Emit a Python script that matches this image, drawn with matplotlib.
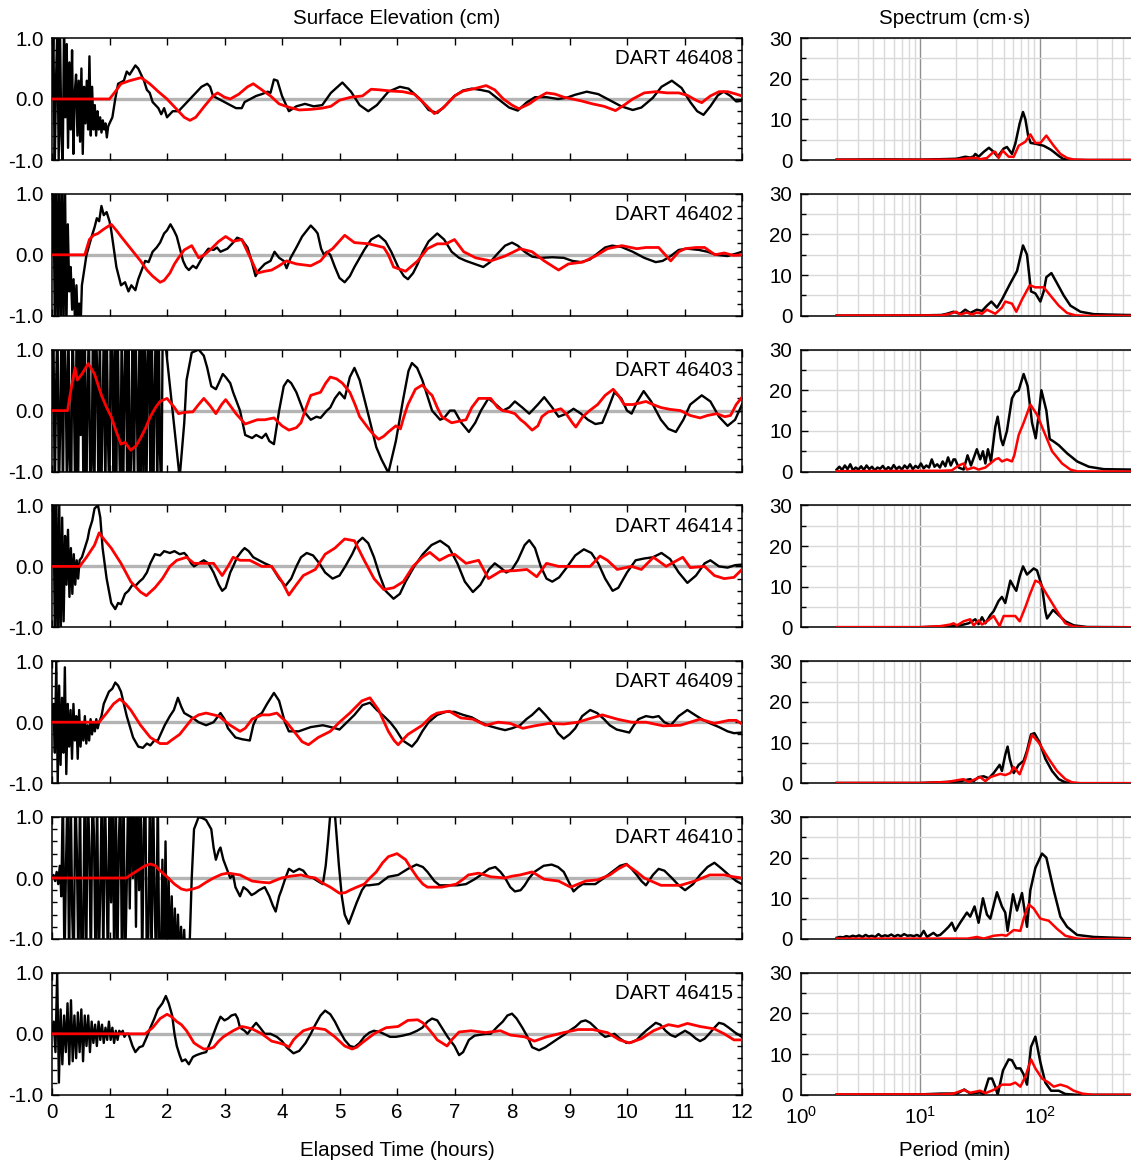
import numpy as np
import matplotlib
matplotlib.use("Agg")
import matplotlib.pyplot as plt
from matplotlib.ticker import MultipleLocator, FixedLocator, NullFormatter, LogFormatterMathtext

plt.rcParams['font.family'] = ['Liberation Sans', 'DejaVu Sans']
plt.rcParams['mathtext.fontset'] = 'custom'
plt.rcParams['mathtext.rm'] = 'Liberation Sans'

STATIONS = ["46408", "46402", "46403", "46414", "46409", "46410", "46415"]

# ---------------- surface elevation (cm) vs elapsed time (hours) ----------------
# observed records start with a high-frequency noisy stretch: (start, end, values)
NOISE_46408 = (0.0, 1.0, [0.0, 1.2, -1.2, 0.3, 1.2, -1.0, 1.1, -0.6, -1.1, 1.2, -0.3, 0.9, -0.8, 0.6,
                          -0.5, 0.8, -0.9, 0.1, 0.4, -0.6, 0.3, -0.7, 0.5, -0.9, 0.2, -0.4, 0.3, -0.5,
                          0.7, -0.6, 0.2, -0.5, -0.1, -0.6, -0.2, -0.5, -0.3, -0.55, -0.35, -0.5, -0.4,
                          -0.63, -0.45, -0.4])
NOISE_46402 = (0.0, 0.5, [0.0, 1.3, -1.3, 1.3, -1.3, 1.3, -1.3, 1.3, -1.3, 1.3, -1.2, 0.5, -0.6, -0.2,
                          -0.9, -0.4, -1.1, -0.5, -1.2, -0.8, -1.1])
NOISE_46403 = (0.0, 1.95, [0.0, 1.5, -1.5, 0.4, 1.5, -1.5, -0.2, 1.5, -1.5, 1.5, 0.6, -1.5, 1.5, -0.8,
                           -1.5, 1.5, 0.3, -1.5, 1.5, -1.5, 1.1, -0.4, 1.5, -1.5, 1.5, -1.5, 0.2, 1.5,
                           -1.5, -0.9, 1.5, -1.5, 1.5, 0.7, -1.5, 1.5, -1.5, 0.0, 1.5, -1.5, 1.5, -0.5,
                           -1.5, 1.5, 0.9, -1.5, 1.5, -1.5, 1.5, -0.3, -1.5, 1.5, -1.5, 0.5, 1.5, -1.5,
                           1.5, -1.5, -0.6, 1.5, -1.5, 1.5, 0.2, -1.5, 1.5, -1.5, 1.5, -1.0, 1.5, -1.5,
                           0.8, 1.5, -1.5, 1.5, -1.5, 0.3, 1.5, -1.5, 1.5, -0.7, -1.5, 1.5, 1.3])
NOISE_46414 = (0.0, 0.48, [0.0, 1.3, -1.3, 1.2, -1.3, 1.0, -1.2, 0.8, -0.9, 0.5, -0.3, 0.6, -0.5, 0.3,
                           -0.45, 0.2, -0.3, 0.1, -0.2, 0.1])
NOISE_46409 = (0.0, 0.82, [0.0, 0.3, -0.5, 1.0, -1.0, 0.6, -0.7, 0.4, -0.5, 0.9, -0.85, 0.3, -0.4, 0.2,
                           -0.6, 0.3, -0.3, 0.1, -0.6, 0.2, -0.4, 0.0, -0.3, 0.1, -0.35, -0.05, -0.3,
                           0.05, -0.2, 0.0, -0.15, 0.05, -0.1, 0.0])
NOISE_46410 = (0.0, 2.38, [0.0, 0.05, -0.05, 0.1, -0.1, 0.2, -0.3, 1.5, -1.5, 0.2, 1.5, -1.5, 1.5, -0.6,
                           -1.5, 1.5, 0.4, -1.5, 1.5, -1.5, -1.0, 1.5, -1.5, 1.5, 0.5, -1.5, 1.5, 0.7,
                           -1.5, 1.5, -1.5, -0.3, 1.5, -1.5, 1.5, 0.1, -1.5, 1.5, -0.4, 1.5, -1.5, 1.5,
                           -1.5, 0.6, 1.5, -1.5, 1.5, -1.5, -0.2, 1.5, -0.5, 1.5, 0.0, 1.5, -0.8, 1.5,
                           -0.2, 1.5, -1.5, 0.8, 1.5, -1.5, -0.9, 1.5, -1.5, 1.5, -0.4, -1.5, 1.5, -1.5,
                           -1.5, 0.3, -1.5, 0.6, -1.5, 0.0, -1.5, -0.3, -1.5, -0.5, -1.5, -0.6, -1.5,
                           -0.8, -1.5, -0.85, -1.5, -1.2, -1.5])
NOISE_46415 = (0.0, 1.29, [0.0, 0.2, -0.3, 1.0, -0.8, 0.4, -0.5, 0.3, -0.3, 0.5, -0.5, 0.55, -0.45, 0.3,
                           -0.4, 0.35, -0.3, 0.4, -0.45, 0.3, -0.2, 0.3, -0.3, 0.2, -0.15, 0.15, -0.2,
                           0.2, -0.1, 0.15, -0.15, 0.1, -0.1, 0.2, -0.1, 0.1, -0.15, 0.05, -0.1, 0.05,
                           0.0, 0.05, -0.05, 0.0])

# observed (black) after the noisy stretch: (hours, cm)
OBS_46408 = [(1.05, -0.3), (1.1, 0.0), (1.15, 0.25), (1.25, 0.3), (1.3, 0.45), (1.35, 0.4), (1.45, 0.55),
             (1.5, 0.5), (1.6, 0.3), (1.65, 0.15), (1.7, 0.1), (1.75, -0.05), (1.85, -0.15), (1.9, -0.25),
             (1.95, -0.15), (2.0, -0.3), (2.1, -0.2), (2.2, -0.2), (2.25, -0.15), (2.3, -0.1), (2.35, -0.05),
             (2.45, 0.05), (2.5, 0.1), (2.6, 0.2), (2.7, 0.25), (2.75, 0.2), (2.8, 0.05), (2.9, 0.0),
             (3.0, -0.05), (3.1, -0.1), (3.2, -0.15), (3.3, -0.15), (3.35, -0.05), (3.45, 0.0), (3.55, 0.05),
             (3.65, 0.08), (3.75, 0.12), (3.8, 0.1), (3.86, 0.32), (3.92, 0.3), (4.0, 0.05), (4.12, -0.2),
             (4.25, -0.12), (4.4, -0.08), (4.55, -0.12), (4.7, -0.1), (4.85, 0.1), (5.05, 0.27), (5.2, 0.12),
             (5.35, -0.1), (5.5, -0.2), (5.65, -0.1), (5.85, 0.12), (6.05, 0.2), (6.2, 0.17), (6.4, 0.0),
             (6.55, -0.18), (6.7, -0.23), (6.85, -0.1), (7.0, 0.05), (7.15, 0.14), (7.3, 0.17), (7.45, 0.15),
             (7.6, 0.12), (7.8, -0.03), (7.95, -0.14), (8.1, -0.19), (8.25, -0.06), (8.4, 0.03), (8.6, 0.03),
             (8.8, 0.0), (8.95, 0.02), (9.1, 0.07), (9.3, 0.12), (9.5, 0.08), (9.7, -0.02), (9.9, -0.12),
             (10.1, -0.18), (10.25, -0.14), (10.45, 0.02), (10.6, 0.2), (10.78, 0.3), (10.95, 0.18),
             (11.1, -0.05), (11.22, -0.2), (11.33, -0.26), (11.45, -0.12), (11.58, 0.06), (11.68, 0.12),
             (11.8, 0.05), (11.9, -0.04), (12.0, -0.03)]
OBS_46402 = [(0.52, -0.5), (0.6, 0.0), (0.69, 0.3), (0.74, 0.45), (0.78, 0.6), (0.82, 0.55), (0.86, 0.8),
             (0.9, 0.65), (0.95, 0.7), (1.0, 0.55), (1.03, 0.4), (1.12, -0.2), (1.2, -0.5), (1.27, -0.45),
             (1.33, -0.6), (1.38, -0.5), (1.45, -0.58), (1.5, -0.4), (1.54, -0.3), (1.62, -0.1), (1.68, -0.12),
             (1.75, 0.05), (1.82, 0.12), (1.88, 0.2), (1.95, 0.35), (2.0, 0.4), (2.06, 0.5), (2.12, 0.4),
             (2.17, 0.3), (2.28, -0.1), (2.33, -0.2), (2.38, -0.25), (2.45, -0.18), (2.51, -0.22), (2.58, -0.1),
             (2.64, 0.0), (2.72, 0.1), (2.81, 0.08), (2.87, 0.12), (2.93, 0.05), (3.05, 0.1), (3.15, 0.2),
             (3.22, 0.28), (3.3, 0.25), (3.4, 0.12), (3.47, -0.1), (3.54, -0.35), (3.6, -0.25), (3.7, -0.15),
             (3.8, -0.1), (3.87, 0.05), (3.95, -0.05), (4.03, -0.1), (4.08, -0.22), (4.15, -0.05), (4.25, 0.12),
             (4.35, 0.3), (4.45, 0.42), (4.5, 0.48), (4.58, 0.4), (4.62, 0.35), (4.68, 0.1), (4.73, 0.0),
             (4.78, 0.05), (4.84, 0.0), (4.92, -0.2), (5.0, -0.38), (5.09, -0.45), (5.18, -0.35), (5.26, -0.2),
             (5.43, 0.08), (5.55, 0.25), (5.68, 0.32), (5.8, 0.22), (5.9, 0.05), (6.02, -0.2), (6.12, -0.35),
             (6.19, -0.4), (6.28, -0.3), (6.36, -0.15), (6.45, 0.05), (6.55, 0.22), (6.7, 0.35), (6.82, 0.25),
             (6.95, 0.05), (7.08, -0.05), (7.2, -0.1), (7.35, -0.15), (7.5, -0.2), (7.62, -0.12), (7.75, 0.02),
             (7.88, 0.15), (8.0, 0.2), (8.1, 0.15), (8.22, 0.05), (8.35, -0.03), (8.5, -0.05), (8.7, -0.04),
             (8.9, -0.05), (9.05, -0.1), (9.2, -0.12), (9.35, -0.08), (9.5, 0.03), (9.62, 0.12), (9.74, 0.15),
             (9.9, 0.13), (10.1, 0.05), (10.3, -0.05), (10.5, -0.12), (10.62, -0.1), (10.76, -0.02),
             (10.9, 0.08), (11.05, 0.1), (11.25, 0.08), (11.4, 0.05), (11.55, 0.0), (11.75, -0.02),
             (11.9, 0.02), (12.0, 0.05)]
OBS_46403 = [(2.22, -1.1), (2.3, -0.2), (2.34, 0.5), (2.43, 0.95), (2.5, 0.98), (2.55, 1.0), (2.64, 0.9),
             (2.7, 0.7), (2.77, 0.4), (2.85, 0.35), (2.9, 0.45), (2.97, 0.6), (3.02, 0.55), (3.1, 0.45),
             (3.15, 0.3), (3.27, 0.0), (3.36, -0.4), (3.48, -0.45), (3.55, -0.4), (3.65, -0.45), (3.72, -0.38),
             (3.78, -0.5), (3.86, -0.55), (3.95, 0.0), (4.03, 0.4), (4.1, 0.5), (4.16, 0.45), (4.25, 0.3),
             (4.37, 0.0), (4.5, -0.15), (4.6, -0.1), (4.67, -0.12), (4.78, 0.0), (4.84, 0.05), (4.92, 0.2),
             (5.0, 0.3), (5.09, 0.2), (5.18, 0.55), (5.26, 0.7), (5.35, 0.5), (5.43, 0.2), (5.51, -0.1),
             (5.64, -0.6), (5.73, -0.8), (5.85, -1.02), (5.98, -0.5), (6.11, 0.2), (6.2, 0.65), (6.26, 0.78),
             (6.35, 0.7), (6.44, 0.5), (6.61, 0.0), (6.75, -0.15), (6.82, -0.12), (6.92, 0.0), (7.0, 0.0),
             (7.12, -0.2), (7.25, -0.35), (7.36, -0.2), (7.46, 0.0), (7.59, 0.2), (7.72, 0.1), (7.84, 0.0),
             (7.95, 0.05), (8.05, 0.15), (8.18, 0.05), (8.3, -0.05), (8.45, 0.1), (8.56, 0.22), (8.7, 0.05),
             (8.81, -0.1), (8.95, -0.05), (9.07, 0.03), (9.2, -0.05), (9.32, -0.15), (9.45, -0.22),
             (9.57, -0.2), (9.68, 0.05), (9.78, 0.3), (9.9, 0.2), (10.0, 0.0), (10.08, -0.05), (10.18, 0.15),
             (10.29, 0.32), (10.42, 0.15), (10.59, -0.15), (10.72, -0.3), (10.85, -0.35), (10.98, -0.15),
             (11.1, 0.1), (11.3, 0.25), (11.45, 0.15), (11.6, -0.1), (11.75, -0.25), (11.88, -0.15), (12.0, 0.1)]
OBS_46414 = [(0.52, 0.15), (0.57, 0.3), (0.62, 0.45), (0.65, 0.6), (0.7, 0.75), (0.74, 0.95), (0.8, 1.0),
             (0.84, 0.8), (0.88, 0.3), (0.95, -0.2), (1.03, -0.6), (1.1, -0.7), (1.15, -0.6), (1.2, -0.62),
             (1.27, -0.45), (1.33, -0.4), (1.4, -0.3), (1.45, -0.32), (1.52, -0.25), (1.58, -0.2), (1.65, -0.1),
             (1.71, 0.05), (1.79, 0.2), (1.88, 0.18), (1.95, 0.25), (2.05, 0.22), (2.13, 0.25), (2.22, 0.2),
             (2.3, 0.22), (2.34, 0.18), (2.42, 0.05), (2.47, 0.0), (2.55, 0.05), (2.64, 0.1), (2.72, 0.05),
             (2.81, -0.1), (2.9, -0.3), (2.96, -0.4), (3.02, -0.35), (3.1, -0.1), (3.15, 0.0), (3.22, 0.15),
             (3.3, 0.25), (3.35, 0.3), (3.42, 0.25), (3.5, 0.15), (3.6, 0.1), (3.7, 0.05), (3.82, 0.0),
             (3.95, -0.2), (4.06, -0.32), (4.16, -0.2), (4.25, 0.0), (4.33, 0.15), (4.43, 0.22), (4.54, 0.18),
             (4.65, 0.05), (4.75, -0.1), (4.88, -0.2), (5.0, -0.15), (5.1, 0.0), (5.22, 0.2), (5.32, 0.4),
             (5.4, 0.47), (5.5, 0.38), (5.6, 0.15), (5.7, -0.15), (5.8, -0.4), (5.94, -0.53), (6.05, -0.45),
             (6.15, -0.25), (6.3, 0.0), (6.45, 0.2), (6.6, 0.35), (6.75, 0.42), (6.9, 0.32), (7.05, 0.05),
             (7.18, -0.25), (7.32, -0.42), (7.45, -0.3), (7.6, -0.05), (7.7, 0.05), (7.8, -0.02), (7.9, -0.1),
             (8.0, -0.05), (8.1, 0.1), (8.22, 0.35), (8.3, 0.43), (8.4, 0.3), (8.5, 0.0), (8.6, -0.2),
             (8.7, -0.25), (8.82, -0.18), (8.95, -0.02), (9.1, 0.18), (9.25, 0.28), (9.38, 0.22), (9.5, 0.05),
             (9.62, -0.2), (9.75, -0.4), (9.85, -0.35), (10.0, -0.1), (10.15, 0.1), (10.3, 0.13), (10.45, 0.15),
             (10.6, 0.22), (10.75, 0.12), (10.9, -0.1), (11.05, -0.27), (11.2, -0.15), (11.35, 0.05),
             (11.45, 0.1), (11.6, 0.0), (11.75, -0.02), (11.88, 0.02), (12.0, 0.03)]
OBS_46409 = [(0.86, 0.1), (0.9, 0.3), (0.99, 0.5), (1.05, 0.55), (1.1, 0.65), (1.15, 0.6), (1.2, 0.5),
             (1.3, 0.1), (1.41, -0.25), (1.5, -0.4), (1.58, -0.42), (1.65, -0.35), (1.71, -0.38), (1.78, -0.3),
             (1.84, -0.3), (1.96, -0.05), (2.05, 0.1), (2.12, 0.2), (2.19, 0.4), (2.25, 0.25), (2.3, 0.15),
             (2.43, 0.08), (2.55, 0.0), (2.68, -0.05), (2.81, 0.0), (2.93, 0.15), (3.0, 0.05), (3.06, -0.1),
             (3.19, -0.25), (3.31, -0.28), (3.44, -0.3), (3.5, -0.05), (3.57, 0.1), (3.65, 0.15), (3.74, 0.3),
             (3.86, 0.48), (3.95, 0.35), (4.05, 0.0), (4.12, -0.15), (4.29, -0.15), (4.5, -0.08), (4.71, -0.05),
             (4.85, -0.08), (5.0, -0.12), (5.13, 0.0), (5.26, 0.12), (5.4, 0.28), (5.53, 0.32), (5.65, 0.2),
             (5.77, 0.1), (5.88, 0.0), (5.98, -0.12), (6.1, -0.3), (6.26, -0.4), (6.35, -0.3), (6.44, -0.15),
             (6.55, 0.0), (6.7, 0.12), (6.85, 0.17), (7.0, 0.17), (7.15, 0.12), (7.3, 0.08), (7.45, 0.0),
             (7.6, -0.06), (7.75, -0.1), (7.88, -0.13), (8.0, -0.1), (8.14, -0.05), (8.25, 0.05), (8.35, 0.12),
             (8.47, 0.23), (8.58, 0.12), (8.69, 0.0), (8.8, -0.18), (8.9, -0.27), (9.0, -0.2), (9.1, -0.1),
             (9.22, 0.1), (9.36, 0.2), (9.48, 0.15), (9.6, 0.05), (9.7, -0.05), (9.82, -0.12), (9.95, -0.15),
             (10.04, -0.17), (10.12, -0.05), (10.2, 0.05), (10.33, 0.1), (10.45, 0.08), (10.55, 0.1),
             (10.65, 0.0), (10.76, -0.05), (10.9, 0.1), (11.05, 0.2), (11.18, 0.12), (11.3, 0.05),
             (11.45, -0.02), (11.6, -0.08), (11.75, -0.15), (11.86, -0.18), (12.0, -0.17)]
OBS_46410 = [(2.43, 0.0), (2.47, 0.8), (2.55, 1.0), (2.62, 0.98), (2.68, 0.95), (2.77, 0.8), (2.81, 0.5),
             (2.85, 0.3), (2.9, 0.45), (2.93, 0.5), (2.98, 0.3), (3.02, 0.2), (3.1, 0.0), (3.15, 0.05),
             (3.19, -0.15), (3.27, -0.3), (3.33, -0.15), (3.4, -0.2), (3.47, -0.28), (3.53, -0.25), (3.6, -0.2),
             (3.7, -0.15), (3.78, -0.3), (3.84, -0.45), (3.89, -0.55), (3.95, -0.3), (3.99, -0.2), (4.06, 0.0),
             (4.12, 0.15), (4.2, 0.1), (4.3, 0.15), (4.37, 0.12), (4.45, 0.02), (4.54, 0.0), (4.62, -0.05),
             (4.71, -0.1), (4.76, 0.2), (4.8, 0.6), (4.84, 1.05), (4.92, 1.05), (4.99, 0.2), (5.04, -0.3),
             (5.09, -0.6), (5.16, -0.75), (5.22, -0.6), (5.3, -0.4), (5.39, -0.2), (5.45, -0.12), (5.51, -0.12),
             (5.68, -0.1), (5.85, 0.02), (6.02, 0.05), (6.19, 0.15), (6.34, 0.22), (6.45, 0.18), (6.53, 0.1),
             (6.65, -0.05), (6.74, -0.12), (6.9, -0.12), (7.05, -0.12), (7.2, -0.1), (7.35, -0.02), (7.46, 0.05),
             (7.6, 0.15), (7.71, 0.18), (7.8, 0.1), (7.88, 0.0), (7.97, -0.15), (8.05, -0.22), (8.15, -0.2),
             (8.22, -0.12), (8.3, 0.0), (8.39, 0.1), (8.55, 0.2), (8.69, 0.22), (8.8, 0.18), (8.9, 0.1),
             (8.98, -0.05), (9.07, -0.22), (9.15, -0.15), (9.23, -0.1), (9.35, -0.1), (9.45, -0.1), (9.6, 0.0),
             (9.74, 0.1), (9.88, 0.2), (9.99, 0.23), (10.08, 0.15), (10.17, 0.05), (10.25, -0.05),
             (10.33, -0.12), (10.45, 0.05), (10.55, 0.15), (10.65, 0.12), (10.78, 0.0), (10.9, -0.12),
             (11.01, -0.2), (11.15, -0.1), (11.27, 0.05), (11.4, 0.18), (11.52, 0.25), (11.65, 0.15),
             (11.77, 0.05), (11.9, -0.05), (12.0, -0.1)]
OBS_46415 = [(1.33, 0.0), (1.4, -0.2), (1.45, -0.3), (1.52, -0.22), (1.58, -0.2), (1.65, -0.05), (1.71, 0.1),
             (1.78, 0.25), (1.84, 0.4), (1.92, 0.5), (1.98, 0.62), (2.03, 0.5), (2.09, 0.3), (2.13, 0.0),
             (2.17, -0.2), (2.22, -0.35), (2.26, -0.45), (2.32, -0.42), (2.38, -0.5), (2.45, -0.38),
             (2.51, -0.35), (2.6, -0.32), (2.68, -0.3), (2.75, -0.15), (2.81, 0.0), (2.87, 0.15), (2.93, 0.28),
             (3.0, 0.22), (3.06, 0.25), (3.12, 0.3), (3.19, 0.32), (3.23, 0.25), (3.27, 0.1), (3.35, 0.05),
             (3.4, 0.0), (3.48, 0.1), (3.55, 0.18), (3.62, 0.1), (3.7, 0.0), (3.8, 0.0), (3.91, -0.05),
             (4.0, -0.12), (4.08, -0.22), (4.2, -0.32), (4.3, -0.28), (4.41, -0.15), (4.5, 0.0), (4.58, 0.15),
             (4.67, 0.3), (4.75, 0.38), (4.84, 0.32), (4.92, 0.2), (5.0, 0.05), (5.09, -0.1), (5.18, -0.2),
             (5.26, -0.22), (5.35, -0.15), (5.43, -0.05), (5.52, 0.02), (5.6, 0.05), (5.7, 0.03), (5.77, 0.0),
             (5.88, -0.05), (5.98, -0.05), (6.1, -0.03), (6.23, 0.0), (6.35, 0.05), (6.44, 0.1), (6.53, 0.2),
             (6.61, 0.25), (6.7, 0.22), (6.78, 0.1), (6.88, -0.05), (7.0, -0.2), (7.08, -0.35), (7.15, -0.3),
             (7.25, -0.1), (7.35, -0.03), (7.42, -0.02), (7.55, 0.0), (7.63, 0.0), (7.75, 0.12), (7.84, 0.2),
             (7.92, 0.3), (8.0, 0.33), (8.08, 0.25), (8.18, 0.1), (8.27, -0.05), (8.35, -0.22), (8.47, -0.27),
             (8.58, -0.22), (8.69, -0.15), (8.8, -0.08), (8.9, -0.02), (9.0, 0.05), (9.11, 0.12), (9.2, 0.2),
             (9.28, 0.22), (9.36, 0.18), (9.45, 0.1), (9.55, 0.0), (9.62, -0.05), (9.7, -0.03), (9.78, 0.0),
             (9.88, -0.08), (9.99, -0.15), (10.08, -0.14), (10.17, -0.1), (10.25, -0.02), (10.33, 0.05),
             (10.42, 0.12), (10.5, 0.18), (10.58, 0.15), (10.67, 0.05), (10.76, -0.02), (10.84, -0.05),
             (10.92, 0.0), (11.01, 0.05), (11.1, 0.0), (11.2, -0.08), (11.27, -0.12), (11.35, -0.08),
             (11.43, 0.0), (11.52, 0.1), (11.6, 0.18), (11.68, 0.16), (11.77, 0.1), (11.88, 0.02), (12.0, -0.05)]

# model (red): (hours, cm)
MOD_46408 = [(0.0, 0.0), (1.0, 0.0), (1.1, 0.12), (1.2, 0.25), (1.35, 0.3), (1.55, 0.35), (1.7, 0.25),
             (1.85, 0.12), (2.0, 0.0), (2.15, -0.15), (2.3, -0.3), (2.4, -0.35), (2.5, -0.3), (2.65, -0.12),
             (2.8, 0.05), (2.88, 0.1), (3.0, 0.03), (3.1, 0.0), (3.25, 0.08), (3.4, 0.2), (3.5, 0.25),
             (3.65, 0.15), (3.8, 0.05), (3.95, -0.08), (4.1, -0.13), (4.3, -0.18), (4.5, -0.17), (4.7, -0.15),
             (4.85, -0.12), (5.0, -0.02), (5.2, 0.03), (5.4, 0.05), (5.55, 0.16), (5.7, 0.15), (5.9, 0.13),
             (6.1, 0.12), (6.3, 0.08), (6.45, -0.05), (6.65, -0.24), (6.8, -0.15), (7.0, 0.05), (7.15, 0.13),
             (7.35, 0.17), (7.55, 0.22), (7.7, 0.15), (7.85, 0.0), (8.0, -0.1), (8.12, -0.16), (8.3, -0.08),
             (8.45, 0.02), (8.6, 0.1), (8.75, 0.08), (8.9, 0.03), (9.05, 0.0), (9.2, -0.03), (9.4, -0.08),
             (9.6, -0.12), (9.8, -0.19), (9.95, -0.1), (10.1, 0.0), (10.3, 0.1), (10.5, 0.12), (10.7, 0.1),
             (10.9, 0.1), (11.05, 0.06), (11.2, -0.02), (11.3, -0.06), (11.45, 0.05), (11.6, 0.12),
             (11.75, 0.12), (11.9, 0.08), (12.0, 0.05)]
MOD_46402 = [(0.0, 0.0), (0.57, 0.0), (0.65, 0.25), (0.72, 0.32), (0.8, 0.35), (0.9, 0.42), (1.03, 0.5),
             (1.12, 0.4), (1.2, 0.3), (1.37, 0.1), (1.54, -0.1), (1.65, -0.25), (1.75, -0.35), (1.88, -0.45),
             (1.95, -0.42), (2.05, -0.3), (2.13, -0.15), (2.2, -0.05), (2.3, 0.08), (2.43, 0.15), (2.55, -0.05),
             (2.65, 0.0), (2.75, 0.08), (2.9, 0.22), (3.02, 0.3), (3.15, 0.22), (3.3, 0.25), (3.45, -0.05),
             (3.57, -0.3), (3.7, -0.27), (3.82, -0.25), (3.95, -0.18), (4.08, -0.1), (4.25, -0.15), (4.5, -0.18),
             (4.67, -0.1), (4.8, 0.05), (4.88, 0.1), (5.09, 0.32), (5.26, 0.2), (5.51, 0.18), (5.77, 0.12),
             (5.85, 0.0), (5.94, -0.2), (6.15, -0.27), (6.36, -0.1), (6.53, 0.1), (6.7, 0.18), (6.85, 0.18),
             (7.0, 0.25), (7.16, 0.05), (7.37, -0.05), (7.63, -0.1), (7.88, -0.02), (8.14, 0.1), (8.35, 0.05),
             (8.56, -0.1), (8.81, -0.25), (8.98, -0.15), (9.23, -0.12), (9.45, -0.02), (9.66, 0.1), (9.91, 0.15),
             (10.17, 0.1), (10.33, 0.12), (10.55, 0.12), (10.76, -0.1), (10.9, 0.05), (11.01, 0.1), (11.2, 0.12),
             (11.35, 0.12), (11.53, 0.0), (11.69, 0.03), (11.85, -0.01), (12.0, 0.0)]
MOD_46403 = [(0.0, 0.0), (0.27, 0.0), (0.34, 0.4), (0.4, 0.7), (0.44, 0.5), (0.52, 0.6), (0.63, 0.77),
             (0.74, 0.6), (0.86, 0.25), (0.95, 0.05), (1.03, -0.1), (1.12, -0.35), (1.2, -0.55), (1.27, -0.52),
             (1.37, -0.65), (1.46, -0.58), (1.54, -0.45), (1.62, -0.3), (1.71, -0.1), (1.8, 0.05), (1.88, 0.15),
             (2.0, 0.2), (2.13, 0.05), (2.2, -0.05), (2.3, -0.03), (2.45, -0.02), (2.55, 0.1), (2.64, 0.2),
             (2.75, 0.08), (2.85, -0.05), (2.95, 0.1), (3.02, 0.18), (3.1, 0.08), (3.2, -0.05), (3.36, -0.22),
             (3.48, -0.18), (3.57, -0.15), (3.7, -0.15), (3.86, -0.12), (4.0, -0.25), (4.12, -0.32),
             (4.25, -0.28), (4.33, -0.2), (4.42, 0.05), (4.5, 0.25), (4.6, 0.28), (4.67, 0.3), (4.76, 0.45),
             (4.84, 0.55), (4.95, 0.52), (5.05, 0.45), (5.18, 0.3), (5.27, 0.1), (5.35, -0.1), (5.51, -0.3),
             (5.6, -0.4), (5.68, -0.47), (5.77, -0.42), (5.85, -0.35), (5.98, -0.25), (6.06, -0.3), (6.12, -0.1),
             (6.19, 0.1), (6.32, 0.35), (6.44, 0.42), (6.55, 0.3), (6.61, 0.25), (6.7, 0.05), (6.78, -0.1),
             (6.95, -0.2), (7.1, -0.17), (7.2, -0.15), (7.3, 0.05), (7.42, 0.2), (7.55, 0.2), (7.63, 0.2),
             (7.75, 0.05), (7.84, 0.0), (7.95, -0.02), (8.05, -0.05), (8.15, -0.15), (8.22, -0.2), (8.35, -0.32),
             (8.45, -0.25), (8.52, -0.1), (8.63, -0.02), (8.73, 0.0), (8.85, 0.03), (8.94, -0.05), (9.05, -0.2),
             (9.11, -0.27), (9.23, -0.1), (9.35, 0.0), (9.49, 0.1), (9.62, 0.25), (9.76, 0.35), (9.85, 0.25),
             (9.95, 0.1), (10.1, 0.1), (10.2, 0.12), (10.33, 0.15), (10.45, 0.1), (10.59, 0.05), (10.75, 0.02),
             (10.93, 0.0), (11.1, -0.08), (11.27, -0.12), (11.4, -0.08), (11.56, -0.05), (11.7, -0.1),
             (11.8, -0.08), (11.9, 0.1), (12.0, 0.22)]
MOD_46414 = [(0.0, 0.0), (0.48, 0.0), (0.6, 0.15), (0.74, 0.35), (0.82, 0.55), (0.9, 0.45), (1.03, 0.3),
             (1.2, 0.05), (1.37, -0.25), (1.54, -0.42), (1.64, -0.48), (1.79, -0.35), (1.92, -0.2), (2.05, 0.0),
             (2.17, 0.1), (2.34, 0.15), (2.47, 0.05), (2.64, 0.05), (2.81, 0.05), (2.96, -0.15), (3.06, 0.0),
             (3.15, 0.15), (3.27, 0.1), (3.44, 0.1), (3.65, 0.0), (3.82, 0.0), (4.0, -0.25), (4.12, -0.47),
             (4.25, -0.3), (4.37, -0.15), (4.58, -0.05), (4.75, 0.2), (4.92, 0.3), (5.09, 0.45), (5.26, 0.42),
             (5.43, 0.1), (5.6, -0.2), (5.77, -0.38), (5.94, -0.35), (6.11, -0.25), (6.28, 0.0), (6.44, 0.15),
             (6.57, 0.23), (6.74, 0.1), (6.9, 0.18), (7.0, 0.2), (7.2, 0.05), (7.42, 0.1), (7.59, -0.2),
             (7.8, -0.08), (8.05, -0.07), (8.26, -0.05), (8.43, -0.17), (8.6, 0.05), (8.81, 0.0), (9.15, 0.0),
             (9.36, 0.0), (9.53, 0.17), (9.66, 0.1), (9.83, -0.05), (10.08, 0.0), (10.25, -0.05), (10.46, 0.15),
             (10.68, 0.0), (10.97, 0.15), (11.1, -0.02), (11.35, 0.0), (11.52, -0.15), (11.69, -0.2),
             (11.86, -0.18), (12.0, -0.05)]
MOD_46409 = [(0.0, 0.0), (0.82, 0.0), (0.95, 0.15), (1.07, 0.3), (1.18, 0.38), (1.28, 0.3), (1.37, 0.2),
             (1.54, -0.05), (1.71, -0.25), (1.88, -0.35), (2.0, -0.35), (2.1, -0.28), (2.22, -0.2), (2.43, 0.05),
             (2.55, 0.12), (2.68, 0.15), (2.9, 0.1), (3.1, -0.05), (3.27, -0.15), (3.36, -0.1), (3.48, 0.05),
             (3.65, 0.12), (3.78, 0.12), (3.91, 0.15), (4.08, 0.0), (4.25, -0.2), (4.35, -0.32), (4.46, -0.37),
             (4.63, -0.25), (4.84, -0.15), (5.0, 0.0), (5.18, 0.15), (5.39, 0.35), (5.53, 0.4), (5.68, 0.2),
             (5.85, -0.15), (5.95, -0.3), (6.02, -0.37), (6.19, -0.2), (6.44, -0.05), (6.6, 0.1), (6.7, 0.15),
             (6.91, 0.18), (7.11, 0.07), (7.32, 0.05), (7.54, -0.05), (7.76, 0.0), (7.97, -0.02), (8.19, -0.1),
             (8.39, -0.06), (8.64, -0.02), (8.9, -0.03), (9.15, 0.0), (9.32, 0.05), (9.57, 0.12), (9.83, 0.05),
             (10.08, 0.0), (10.33, 0.0), (10.63, -0.06), (10.93, -0.05), (11.1, 0.0), (11.27, 0.05),
             (11.52, -0.02), (11.77, 0.03), (11.9, 0.03), (12.0, -0.03)]
MOD_46410 = [(0.0, 0.0), (1.29, 0.0), (1.45, 0.1), (1.62, 0.2), (1.71, 0.23), (1.8, 0.2), (1.88, 0.12),
             (2.0, 0.02), (2.13, -0.1), (2.25, -0.18), (2.34, -0.2), (2.45, -0.18), (2.55, -0.15), (2.68, -0.07),
             (2.81, 0.0), (2.95, 0.06), (3.06, 0.08), (3.27, 0.05), (3.48, -0.05), (3.65, -0.07), (3.78, -0.08),
             (3.99, 0.0), (4.15, 0.03), (4.33, 0.05), (4.45, 0.02), (4.58, 0.0), (4.7, -0.08), (4.84, -0.15),
             (5.0, -0.25), (5.1, -0.24), (5.18, -0.2), (5.3, -0.15), (5.43, -0.1), (5.53, 0.0), (5.64, 0.1),
             (5.75, 0.25), (5.85, 0.35), (6.0, 0.4), (6.15, 0.3), (6.25, 0.15), (6.36, 0.0), (6.45, -0.1),
             (6.53, -0.15), (6.78, -0.15), (7.03, -0.1), (7.15, -0.02), (7.24, 0.05), (7.42, 0.08), (7.63, 0.02),
             (7.88, 0.0), (8.0, 0.03), (8.14, 0.05), (8.35, 0.1), (8.56, -0.02), (8.81, -0.05), (9.02, -0.15),
             (9.15, -0.1), (9.28, -0.05), (9.49, -0.03), (9.7, 0.05), (9.85, 0.15), (9.99, 0.22), (10.17, 0.1),
             (10.3, 0.0), (10.42, -0.05), (10.59, -0.12), (10.93, -0.12), (11.18, -0.05), (11.44, 0.05),
             (11.69, 0.05), (11.85, 0.02), (12.0, 0.0)]
MOD_46415 = [(0.0, 0.0), (1.62, 0.0), (1.75, 0.1), (1.88, 0.25), (2.0, 0.32), (2.08, 0.28), (2.17, 0.2),
             (2.25, 0.15), (2.34, 0.05), (2.47, -0.15), (2.55, -0.2), (2.64, -0.25), (2.75, -0.24), (2.81, -0.22),
             (2.9, -0.12), (2.98, -0.05), (3.15, 0.05), (3.3, 0.12), (3.4, 0.1), (3.48, 0.08), (3.65, 0.0),
             (3.82, -0.12), (3.95, -0.15), (4.05, -0.18), (4.12, -0.22), (4.2, -0.1), (4.25, -0.05), (4.37, 0.05),
             (4.54, 0.1), (4.75, 0.07), (4.92, -0.05), (5.09, -0.2), (5.22, -0.25), (5.3, -0.22), (5.39, -0.15),
             (5.6, 0.0), (5.81, 0.1), (6.02, 0.12), (6.19, 0.22), (6.36, 0.23), (6.45, 0.18), (6.53, 0.1),
             (6.62, 0.0), (6.7, -0.1), (6.87, -0.2), (6.95, -0.1), (7.08, 0.03), (7.29, 0.05), (7.54, 0.02),
             (7.8, 0.05), (7.97, -0.02), (8.22, -0.05), (8.39, -0.12), (8.6, -0.05), (8.9, 0.02), (9.15, 0.07),
             (9.4, 0.07), (9.66, 0.02), (9.87, -0.1), (10.04, -0.15), (10.25, -0.08), (10.46, 0.05),
             (10.72, 0.15), (10.89, 0.12), (11.05, 0.17), (11.27, 0.12), (11.52, 0.08), (11.69, 0.0),
             (11.86, -0.1), (12.0, -0.1)]

# ---------------- spectra (cm*s) vs period (min) ----------------
# noisy short-period part of two observed spectra: (first period, last period, values)
SPEC_NOISE_46403 = (2.0, 19.0, [0.5, 1.2, 0.4, 1.5, 0.6, 1.8, 0.3, 1.0, 0.5, 1.3, 0.4, 1.5, 0.6, 1.2, 0.3,
                                1.0, 0.7, 1.4, 0.4, 1.1, 0.5, 1.6, 0.6, 1.2, 0.5, 1.5, 0.8, 1.8, 0.6, 1.4,
                                0.9, 2.0, 0.8, 1.5, 1.0, 3.0, 1.2, 1.8, 1.0, 2.5, 1.3, 3.5, 1.5, 3.0])
SPEC_NOISE_46410 = (2.0, 10.0, [0.3, 0.5, 0.4, 0.7, 0.5, 0.8, 0.6, 0.9, 0.5, 1.0, 0.6, 0.8, 0.5, 1.2, 0.6,
                                0.9, 0.7, 1.1, 0.6, 1.0, 0.7, 1.2, 0.8, 0.9, 0.7, 1.0, 0.6])

SPEC_OBS_46408 = [(2, 0.1), (5, 0.15), (10, 0.1), (15, 0.2), (20, 0.3), (21.6, 0.5), (23.8, 0.8), (26.2, 0.6),
                  (28, 0.9), (28.9, 1.5), (30.8, 0.8), (34, 2.0), (37.6, 3.0), (41.2, 2.0), (44.5, 0.8),
                  (49.9, 2.8), (53.2, 3.2), (58.6, 1.5), (62.5, 4.0), (68, 9.0), (72.5, 11.8), (75.9, 10.0),
                  (80, 6.0), (84, 4.2), (92, 4.0), (108, 3.5), (122.8, 2.6), (131, 2.0), (144.3, 1.0),
                  (158.8, 0.2), (180.7, 0.05), (250, 0.0), (1000, 0.0)]
SPEC_OBS_46402 = [(2, 0.05), (10, 0.1), (15, 0.2), (16.7, 0.5), (19, 1.0), (21.6, 0.5), (23.8, 1.5),
                  (26.2, 0.7), (29.8, 1.5), (32.9, 1.2), (36.2, 2.5), (39.4, 3.5), (43.9, 2.0), (48.3, 4.0),
                  (56.8, 8.0), (64.6, 11.0), (72.5, 17.3), (78.3, 15.0), (84.6, 6.0), (92, 5.5), (101.3, 3.5),
                  (108, 6.0), (113.7, 9.5), (125.3, 10.5), (139.7, 8.0), (158.8, 5.0), (180.7, 2.5),
                  (219.2, 1.0), (283.6, 0.4), (539.5, 0.2), (1000, 0.15)]
SPEC_OBS_46403 = [(19.6, 3.0), (21.0, 1.0), (23.1, 0.5), (24.9, 4.0), (26.6, 1.5), (29.8, 5.5), (31.8, 3.0),
                  (33.5, 5.0), (35.1, 2.0), (36.9, 5.5), (39.1, 2.5), (42.5, 11.0), (44.5, 13.5), (47.4, 8.0),
                  (49.3, 6.5), (53.2, 10.0), (58.6, 18.0), (62.5, 19.5), (66.7, 20.0), (73.4, 24.0),
                  (79.3, 21.0), (86.3, 12.0), (92.6, 8.2), (98.1, 14.0), (103.3, 20.0), (113.7, 15.0),
                  (121.3, 8.0), (129.4, 7.5), (144.3, 6.5), (169.4, 4.5), (205.5, 2.5), (257.5, 1.2),
                  (343.7, 0.6), (575, 0.5), (1000, 0.45)]
SPEC_OBS_46414 = [(2, 0.05), (10, 0.05), (17, 0.3), (21.6, 0.5), (25.4, 1.0), (28.9, 2.0), (30.8, 0.8),
                  (32.9, 2.5), (35.1, 1.0), (38.6, 3.0), (41.2, 4.0), (45.3, 6.5), (48.3, 7.5), (51.5, 6.0),
                  (56.8, 11.5), (60.6, 10.0), (63.7, 9.0), (68, 12.5), (72.5, 15.0), (78.3, 13.0),
                  (89.1, 14.5), (95, 14.0), (104.6, 10.0), (111.5, 4.0), (115.2, 2.2), (129.4, 4.3),
                  (144.3, 3.0), (164, 1.5), (192.7, 0.5), (249.3, 0.1), (1000, 0.0)]
SPEC_OBS_46409 = [(2, 0.05), (10, 0.05), (17, 0.3), (21.6, 0.5), (26.2, 1.0), (28, 0.5), (30.8, 1.5),
                  (34, 1.7), (37.4, 1.2), (41.2, 2.5), (46.2, 4.5), (48.3, 3.0), (51.5, 7.0), (53.9, 9.0),
                  (56.1, 6.0), (60.6, 2.5), (66.7, 4.5), (73.4, 5.5), (78.3, 8.0), (84.6, 12.0), (90.3, 12.3),
                  (100, 10.0), (111.5, 6.0), (126.9, 3.0), (144.3, 1.0), (164, 0.2), (200, 0.0), (1000, 0.0)]
SPEC_OBS_46410 = [(10.7, 2.0), (11.4, 0.5), (12.9, 1.5), (13.8, 0.8), (14.7, 1.0), (16.0, 2.0), (17.3, 3.0),
                  (18.4, 4.0), (19.6, 2.0), (21.6, 4.0), (24.6, 6.5), (26.2, 5.5), (28.5, 8.0), (30.8, 4.0),
                  (33.5, 10.0), (36.2, 6.0), (38.6, 5.0), (43.9, 11.5), (48.3, 8.0), (51.5, 6.5), (53.9, 2.0),
                  (59.8, 11.0), (64.6, 7.0), (71.1, 11.3), (78.3, 3.0), (83.5, 12.0), (92, 17.5),
                  (104.6, 21.0), (113.7, 20.0), (131, 12.0), (149, 5.5), (169.4, 3.0), (205.5, 1.0),
                  (283.6, 0.5), (539.5, 0.2), (1000, 0.15)]
SPEC_OBS_46415 = [(2, 0.05), (10, 0.1), (15, 0.3), (20.3, 0.3), (23.4, 1.3), (26.2, 0.3), (31.8, 0.6),
                  (34, 0.1), (37.4, 4.0), (39.9, 4.0), (42.5, 2.0), (44.5, 0.0), (49.3, 6.0), (55, 8.7),
                  (58.6, 8.5), (63.7, 6.5), (68.9, 6.5), (73.4, 5.0), (78.3, 2.5), (84.6, 11.8), (92, 14.3),
                  (101.3, 8.0), (111.5, 3.0), (124.5, 1.0), (144.3, 1.0), (164, 0.2), (200, 0.0), (1000, 0.0)]

SPEC_MOD_46408 = [(2, 0.05), (10, 0.05), (20, 0.1), (23, 0.3), (26, 0.5), (30, 0.5), (31.8, 0.2), (36.2, 0.5),
                  (41.2, 2.0), (42.5, 2.0), (45.3, 0.5), (49, 2.3), (51, 1.8), (55, 0.8), (60.6, 0.8),
                  (66.7, 3.5), (75.9, 4.5), (83.5, 6.3), (92, 4.2), (101.3, 4.2), (113.7, 6.0), (131, 3.5),
                  (149, 1.5), (169.4, 0.5), (192.7, 0.1), (250, 0.0), (1000, 0.0)]
SPEC_MOD_46402 = [(2, 0.05), (15, 0.1), (17.8, 0.5), (20, 1.0), (21.6, 0.3), (24.6, 0.8), (27.1, 0.3),
                  (29.8, 0.8), (32.9, 0.5), (36.2, 1.5), (42.5, 0.5), (48.3, 2.0), (51.5, 3.5), (58.6, 3.0),
                  (63.7, 1.0), (71.1, 4.0), (82.5, 7.5), (92, 7.0), (108, 7.0), (122.8, 5.0), (144.3, 2.5),
                  (169.4, 0.7), (199, 0.1), (250, 0.0), (1000, 0.0)]
SPEC_MOD_46403 = [(2, 0.1), (15, 0.2), (18.4, 0.3), (21, 1.5), (23.1, 2.0), (24.6, 0.5), (28, 1.0),
                  (30.8, 0.5), (35.1, 1.0), (42.5, 3.0), (45.3, 3.3), (48.3, 2.5), (53.2, 3.0), (58.6, 2.5),
                  (61.3, 4.0), (66.7, 9.0), (73.4, 12.0), (83.5, 16.5), (95, 14.0), (108, 10.0), (126.9, 5.0),
                  (153.8, 2.0), (180.7, 0.5), (205.5, 0.05), (1000, 0.0)]
SPEC_MOD_46414 = [(2, 0.05), (10, 0.05), (14.7, 0.3), (17.8, 0.7), (19, 1.0), (20.3, 0.5), (23.1, 1.5),
                  (26.2, 2.0), (28, 0.5), (30.8, 1.7), (32.9, 0.7), (36.2, 1.5), (41.2, 2.8), (46.2, 0.3),
                  (49.9, 2.8), (62.5, 2.8), (68, 1.5), (75.9, 5.0), (82.5, 8.0), (92, 11.5), (100, 11.0),
                  (115.2, 8.0), (139.7, 4.0), (164, 1.0), (192.7, 0.2), (250, 0.0), (1000, 0.0)]
SPEC_MOD_46409 = [(2, 0.05), (10, 0.05), (16.7, 0.3), (23.1, 1.0), (25.4, 0.3), (31.8, 1.5), (35.1, 0.5),
                  (38.6, 1.5), (46.8, 2.3), (51.5, 2.0), (56.8, 2.5), (60.6, 4.0), (68, 2.2), (75.9, 6.0),
                  (86.3, 11.9), (98.1, 10.0), (118.9, 6.0), (139.7, 3.0), (164, 1.0), (186.6, 0.2),
                  (220, 0.0), (1000, 0.0)]
SPEC_MOD_46410 = [(2, 0.1), (25, 0.1), (29.8, 0.5), (34, 0.1), (41.2, 0.8), (48.3, 1.0), (52.6, 0.8),
                  (60.6, 2.2), (68.9, 2.0), (73.4, 5.0), (80.9, 8.5), (89.1, 7.5), (101.3, 5.0), (118.9, 4.5),
                  (139.7, 2.5), (164, 0.8), (205.5, 0.1), (250, 0.0), (1000, 0.0)]
SPEC_MOD_46415 = [(2, 0.1), (15, 0.1), (19, 0.3), (23.1, 1.2), (26.2, 0.5), (31.8, 1.0), (35.1, 0.4),
                  (41.2, 1.2), (48.3, 2.5), (56.8, 2.5), (62.5, 3.0), (68.9, 2.0), (75.9, 4.5), (84.6, 8.7),
                  (92, 6.5), (104.6, 4.0), (118.9, 3.0), (131, 2.0), (149, 2.5), (169.4, 2.0), (192.7, 1.0),
                  (226.4, 0.3), (280, 0.0), (1000, 0.0)]

NOISE = [NOISE_46408, NOISE_46402, NOISE_46403, NOISE_46414, NOISE_46409, NOISE_46410, NOISE_46415]
OBS = [OBS_46408, OBS_46402, OBS_46403, OBS_46414, OBS_46409, OBS_46410, OBS_46415]
MOD = [MOD_46408, MOD_46402, MOD_46403, MOD_46414, MOD_46409, MOD_46410, MOD_46415]
SPEC_NOISE = {2: SPEC_NOISE_46403, 5: SPEC_NOISE_46410}
SPEC_OBS = [SPEC_OBS_46408, SPEC_OBS_46402, SPEC_OBS_46403, SPEC_OBS_46414, SPEC_OBS_46409,
            SPEC_OBS_46410, SPEC_OBS_46415]
SPEC_MOD = [SPEC_MOD_46408, SPEC_MOD_46402, SPEC_MOD_46403, SPEC_MOD_46414, SPEC_MOD_46409,
            SPEC_MOD_46410, SPEC_MOD_46415]

W, H = 1131, 1165
fig = plt.figure(figsize=(W / 100, H / 100), dpi=100)


def px_axes(x0, y0, w, h):
    return fig.add_axes([x0 / W, 1 - (y0 + h) / H, w / W, h / H])


FS = 14.8
LIGHT = '#d9d9d9'
DARK = '#8f8f8f'

for i, st in enumerate(STATIONS):
    top = 38 + 155.8 * i
    last = i == len(STATIONS) - 1

    # ---- time series ----
    ax = px_axes(52, top, 690, 122)
    t0, t1, nv = NOISE[i]
    tn = np.linspace(t0, t1, len(nv))
    to, vo = zip(*OBS[i])
    tm, vm = zip(*MOD[i])
    ax.axhline(0, color='#b4b4b4', lw=2.4, zorder=1)
    ax.plot(np.concatenate([tn, to]), np.concatenate([nv, vo]), color='black', lw=1.7, zorder=2)
    ax.plot(tm, vm, color='red', lw=2.0, zorder=3)
    ax.set_xlim(0, 12)
    ax.set_ylim(-1, 1)
    ax.set_xticks(range(13))
    ax.set_yticks([-1, 0, 1])
    ax.set_yticklabels(['-1.0', '0.0', '1.0'])
    ax.yaxis.set_minor_locator(MultipleLocator(0.2))
    ax.tick_params(which='both', direction='in', top=True, right=True, labelsize=FS, width=1)
    ax.tick_params(which='major', length=5, pad=6)
    ax.tick_params(which='minor', length=3.5)
    if not last:
        ax.set_xticklabels([])
    for s in ax.spines.values():
        s.set_linewidth(1.1)
    ax.text(0.987, 0.83, "DART " + st, transform=ax.transAxes, ha='right', va='center', fontsize=FS)

    # ---- spectrum ----
    bx = px_axes(800.7, top, 358.5, 122)
    if i in SPEC_NOISE:
        p0, p1, sv = SPEC_NOISE[i]
        pn = np.geomspace(p0, p1, len(sv))
    else:
        pn, sv = np.array([]), np.array([])
    po, so = zip(*SPEC_OBS[i])
    pm, sm = zip(*SPEC_MOD[i])
    bx.plot(np.concatenate([pn, po]), np.concatenate([sv, so]), color='black', lw=1.8, zorder=3)
    bx.plot(pm, sm, color='red', lw=1.8, zorder=4)
    bx.set_xscale('log')
    bx.set_xlim(1, 1000)
    bx.set_ylim(0, 30)
    bx.xaxis.set_major_locator(FixedLocator([1, 10, 100]))
    bx.xaxis.set_minor_locator(FixedLocator([2, 3, 4, 5, 6, 7, 8, 9, 20, 30, 40, 50, 60, 70, 80, 90,
                                             200, 300, 400, 500, 600, 700, 800, 900]))
    bx.xaxis.set_minor_formatter(NullFormatter())
    bx.xaxis.set_major_formatter(LogFormatterMathtext())
    bx.set_yticks([0, 10, 20, 30])
    bx.yaxis.set_minor_locator(FixedLocator([5, 15, 25]))
    bx.xaxis.grid(True, which='minor', color=LIGHT, lw=1.0, zorder=0)
    bx.xaxis.grid(True, which='major', color=DARK, lw=1.0, zorder=0)
    bx.yaxis.grid(True, which='both', color=LIGHT, lw=1.0, zorder=0)
    bx.set_axisbelow(True)
    bx.tick_params(axis='x', which='both', length=0, labelsize=FS, pad=8)
    bx.tick_params(axis='y', which='both', direction='in', labelsize=FS, pad=6, width=1)
    bx.tick_params(axis='y', which='major', length=5)
    bx.tick_params(axis='y', which='minor', length=3.5)
    if not last:
        bx.set_xticklabels([])
    for s in bx.spines.values():
        s.set_linewidth(1.1)

fig.text(397 / W, 1 - 19 / H, "Surface Elevation (cm)", ha='center', va='center', fontsize=FS)
fig.text(955 / W, 1 - 19 / H, "Spectrum (cm\u00b7s)", ha='center', va='center', fontsize=FS)
fig.text(397 / W, 1 - 1151 / H, "Elapsed Time (hours)", ha='center', va='center', fontsize=FS)
fig.text(955 / W, 1 - 1151 / H, "Period (min)", ha='center', va='center', fontsize=FS)

fig.savefig("out.png", dpi=100)
